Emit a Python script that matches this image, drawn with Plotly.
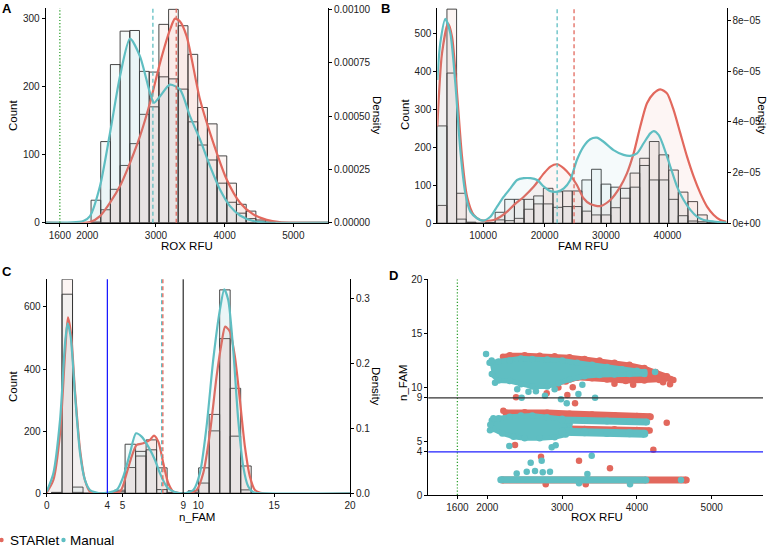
import plotly.graph_objects as go

W, H = 770, 548
FONT = "Liberation Sans, Arial, Helvetica, sans-serif"
RED = "#E2685D"
CYAN = "#5FBEC2"
RED_BAR = "rgba(222,122,108,0.08)"
CYAN_BAR = "rgba(122,188,195,0.08)"
RED_AREA = "rgba(222,122,108,0.075)"
CYAN_AREA = "rgba(122,188,195,0.075)"
OUTLINE = "#333333"
GREEN = "#2EA02E"

# ---------------- Panel A : ROX RFU ----------------
a_bins = [2125, 2266, 2407, 2548, 2689, 2831, 2972, 3113, 3254, 3395, 3537, 3678,
          3819, 3960, 4101, 4243, 4384, 4525, 4666]
a_binwidth = 141.2
a_count_starlet = [1, 19, 49, 84, 116, 159, 221, 291, 313, 289, 247, 169, 145, 98, 58, 27, 17, 4, 1]
a_count_manual = [33, 119, 232, 281, 282, 222, 170, 214, 211, 196, 148, 114, 92, 58, 30, 14, 6, 2, 0]
a_dx_manual = [1394, 1942, 2039, 2185, 2331, 2476, 2622, 2767, 2913, 2971, 3059, 3204, 3350,
               3495, 3641, 3787, 3932, 4078, 4224, 4417, 4600, 5505]
a_dens_manual = [0, 0.000008, 0.000031, 0.000172, 0.000422, 0.000688, 0.000864, 0.000781,
                 0.000609, 0.000563, 0.000594, 0.000648, 0.000625, 0.000500, 0.000391,
                 0.000266, 0.000156, 0.000078, 0.000034, 0.000008, 0.000001, 0]
a_dx_starlet = [1394, 2039, 2185, 2331, 2476, 2622, 2767, 2913, 3059, 3204, 3277, 3350, 3447,
                3641, 3835, 4030, 4224, 4417, 4612, 4800, 5505]
a_dens_starlet = [0, 0.000003, 0.000031, 0.000094, 0.000172, 0.000281, 0.000406, 0.000563,
                  0.000750, 0.000906, 0.000958, 0.000945, 0.000875, 0.000578, 0.000375,
                  0.000203, 0.000094, 0.000039, 0.000013, 0.000003, 0]
a_mean_manual, a_mean_starlet = 2955, 3295
a_xticks = [1600, 2000, 3000, 4000, 5000]
a_count_ticks = [0, 100, 200, 300]
a_dens_ticks = [0, 0.00025, 0.0005, 0.00075, 0.001]
a_dens_labels = ["0.00000", "0.00025", "0.00050", "0.00075", "0.00100"]

# ---------------- Panel B : FAM RFU ----------------
b_bins = [3341, 4909, 6477, 8045, 9613, 11181, 12749, 14317, 15885, 17453, 19021, 20589,
          22157, 23725, 25293, 26861, 28429, 29997, 31565, 33133, 34701, 36269, 37837,
          39405, 40973, 42541, 44109, 45677, 47245, 48813]
b_binwidth = 1568
b_count_starlet = [47, 563, 79, 3, 0, 1, 9, 7, 13, 37, 51, 92, 83, 85, 85, 32, 22, 22, 41, 66,
                   132, 171, 215, 180, 140, 82, 57, 22, 2, 0]
b_count_manual = [256, 395, 11, 2, 0, 2, 29, 63, 63, 63, 72, 51, 42, 44, 44, 114, 142, 103, 95,
                  92, 95, 152, 114, 114, 63, 20, 6, 4, 0, 0]
b_dx_manual = [2557, 3040, 3860, 4670, 5490, 6300, 7120, 7930, 9020, 10000, 11190, 12280,
               13370, 14450, 15540, 16630, 17710, 18800, 19890, 20960, 22050, 23140, 24170,
               25260, 26340, 27430, 28510, 29600, 31230, 32860, 33940, 35030, 36120, 37200,
               37750, 38560, 39370, 40460, 41550, 42630, 43720, 44800, 45890, 47520, 49597]
b_dens_manual = [5.66e-5, 7.11e-5, 8.07e-5, 7.50e-5, 5.53e-5, 2.89e-5, 1.18e-5, 0.46e-5, 0.20e-5,
                 0.105e-5, 0.26e-5, 0.66e-5, 1.05e-5, 1.38e-5, 1.71e-5, 1.78e-5, 1.78e-5,
                 1.71e-5, 1.45e-5, 1.27e-5, 1.25e-5, 1.38e-5, 1.70e-5, 2.50e-5, 3.03e-5,
                 3.32e-5, 3.38e-5, 3.22e-5, 2.89e-5, 2.70e-5, 2.66e-5, 2.76e-5, 3.16e-5,
                 3.55e-5, 3.64e-5, 3.49e-5, 3.03e-5, 2.24e-5, 1.45e-5, 0.92e-5, 0.53e-5,
                 0.26e-5, 0.13e-5, 0.07e-5, 0.03e-5]
b_dx_starlet = [2557, 3322, 4300, 4950, 5770, 6580, 7400, 8480, 9560, 10650, 11740, 12820,
                13910, 15000, 16630, 18260, 19890, 20960, 22050, 23140, 24170, 25260, 26340,
                27430, 29060, 30690, 32320, 33400, 34490, 35570, 36660, 37750, 38830, 39920,
                41000, 42090, 43180, 44260, 45350, 46430, 47520, 48600, 49597]
b_dens_starlet = [3.82e-5, 6.71e-5, 7.89e-5, 7.37e-5, 5.13e-5, 2.63e-5, 1.05e-5, 0.33e-5,
                  0.13e-5, 0.10e-5, 0.13e-5, 0.26e-5, 0.46e-5, 0.72e-5, 1.05e-5, 1.45e-5,
                  1.97e-5, 2.24e-5, 2.33e-5, 2.17e-5, 1.90e-5, 1.51e-5, 0.99e-5, 0.76e-5,
                  0.68e-5, 0.92e-5, 1.45e-5, 1.97e-5, 2.76e-5, 3.82e-5, 4.74e-5, 5.13e-5,
                  5.29e-5, 5.13e-5, 4.47e-5, 3.55e-5, 2.63e-5, 1.84e-5, 1.18e-5, 0.66e-5,
                  0.33e-5, 0.13e-5, 0.06e-5]
b_mean_manual, b_mean_starlet = 22050, 24800
b_xticks = [10000, 20000, 30000, 40000]
b_xlabels = ["10000", "20000", "30000", "40000"]
b_count_ticks = [0, 100, 200, 300, 400, 500]
b_dens_ticks = [0, 2e-5, 4e-5, 6e-5, 8e-5]
b_dens_labels = ["0e+00", "2e\u221205", "4e\u221205", "6e\u221205", "8e\u221205"]

# ---------------- Panel C : n_FAM ----------------
c_bins = [0.664, 1.357, 2.050, 2.743, 3.436, 4.129, 4.822, 5.515, 6.208, 6.901, 7.594,
          8.287, 8.980, 9.673, 10.366, 11.059, 11.752, 12.445, 13.138, 13.831]
c_binwidth = 0.693
c_count_starlet = [2, 689, 3, 0, 0, 0, 5, 83, 120, 172, 82, 3, 1, 3, 33, 201, 498, 338, 88, 1]
c_count_manual = [3, 641, 20, 0, 0, 0, 10, 158, 135, 140, 12, 1, 1, 8, 82, 254, 655, 184, 11, 0]
c_dx_manual = [0.0, 0.44, 0.88, 1.21, 1.38, 1.58, 1.86, 2.20, 2.52, 2.85, 3.51, 4.61, 5.05,
               5.49, 5.89, 6.26, 6.70, 7.14, 7.47, 7.91, 8.35, 9.01, 9.67, 10.10, 10.54,
               10.98, 11.42, 11.71, 11.97, 12.30, 12.63, 12.96, 13.29, 13.62, 14.50, 20.0]
c_dens_manual = [0.0026, 0.0308, 0.1128, 0.2308, 0.2615, 0.2410, 0.1538, 0.0615, 0.0205,
                 0.0051, 0.0, 0.0051, 0.0256, 0.0615, 0.0923, 0.0872, 0.0718, 0.0513,
                 0.0308, 0.0103, 0.0026, 0.0, 0.0051, 0.0308, 0.1026, 0.2051, 0.2821,
                 0.3138, 0.2974, 0.2205, 0.1128, 0.0410, 0.0103, 0.0015, 0.0, 0.0]
c_dx_starlet = [0.0, 0.44, 0.88, 1.21, 1.40, 1.60, 1.86, 2.20, 2.52, 2.85, 3.51, 4.83, 5.27,
                5.60, 5.93, 6.37, 6.81, 7.07, 7.36, 7.69, 8.02, 8.35, 9.23, 9.89, 10.32,
                10.76, 11.20, 11.53, 11.77, 12.08, 12.41, 12.74, 13.07, 13.40, 13.73, 14.28, 20.0]
c_dens_starlet = [0.0010, 0.0205, 0.0923, 0.2154, 0.2708, 0.2462, 0.1590, 0.0667, 0.0205,
                  0.0026, 0.0, 0.0026, 0.0308, 0.0564, 0.0744, 0.0769, 0.0821, 0.0887,
                  0.0795, 0.0462, 0.0154, 0.0026, 0.0, 0.0051, 0.0308, 0.0923, 0.1795,
                  0.2308, 0.2564, 0.2487, 0.2103, 0.1436, 0.0718, 0.0256, 0.0051, 0.0, 0.0]
c_mean_manual, c_mean_starlet = 7.58, 7.66
c_cut_low, c_cut_high = 4, 9
c_xticks = [0, 4, 5, 9, 10, 15, 20]
c_count_ticks = [0, 200, 400, 600]
c_dens_ticks = [0, 0.1, 0.2, 0.3]
c_dens_labels = ["0.0", "0.1", "0.2", "0.3"]

# ---------------- Panel D : ROX RFU vs n_FAM ----------------
d_starlet_top_x = [2210, 2300, 2500, 2700, 2900, 3100, 3300, 3500, 3700, 3900, 4100, 4250,
                   4400, 4450, 4300, 4100, 3850, 3600, 3400, 3200, 3050, 2850, 2600, 2400, 2250]
d_starlet_top_y = [12.8, 12.95, 12.95, 12.9, 12.85, 12.75, 12.6, 12.45, 12.25, 12.05, 11.75,
                   11.4, 11.0, 10.75, 10.65, 10.6, 10.55, 10.7, 10.8, 10.85, 10.5, 10.3, 10.3,
                   10.6, 11.4]
d_manual_top_x = [2030, 2150, 2300, 2450, 2600, 2800, 3000, 3200, 3400, 3600, 3800, 4000, 4100,
                  4100, 3900, 3700, 3500, 3300, 3100, 2950, 2800, 2600, 2450, 2300, 2150, 2060]
d_manual_top_y = [12.25, 12.35, 12.45, 12.65, 12.6, 12.55, 12.45, 12.25, 12.05, 11.85, 11.65,
                  11.5, 11.4, 11.2, 11.2, 11.15, 11.1, 11.0, 10.7, 10.35, 10.05, 10.05, 10.25,
                  10.55, 10.6, 11.2]
d_starlet_mid1_x = [2250, 2500, 2800, 3100, 3400, 3700, 4000, 4180]
d_starlet_mid1_y = [7.6, 7.65, 7.6, 7.5, 7.42, 7.35, 7.3, 7.25]
d_starlet_mid2_x = [2950, 3300, 3700, 4000, 4170]
d_starlet_mid2_y = [6.15, 6.12, 6.08, 6.02, 5.98]
d_manual_mid_x = [2060, 2150, 2300, 2450, 2600, 2800, 3000, 3100, 3100, 3050, 2900, 2700,
                  2500, 2350, 2200, 2080, 2040]
d_manual_mid_y = [6.9, 7.1, 7.25, 7.35, 7.35, 7.2, 7.05, 6.6, 6.1, 5.6, 5.35, 5.25, 5.25,
                  5.4, 5.7, 6.1, 6.5]
d_manual_mid1_x = [3000, 3300, 3600, 3900, 4130]
d_manual_mid1_y = [6.95, 6.9, 6.85, 6.8, 6.75]
d_manual_mid2_x = [3000, 3300, 3600, 3900, 4100]
d_manual_mid2_y = [5.85, 5.8, 5.75, 5.72, 5.68]
d_starlet_low_x = [2200, 4660]
d_starlet_low_y = [1.4, 1.4]
d_manual_low_x = [2180, 4120]
d_manual_low_y = [1.42, 1.4]
d_starlet_pts_x = [2384, 2794, 3070, 3142, 3173, 2214, 2370, 4220, 4399, 2718, 3226, 3640,
                   2781, 3316, 4488, 4443, 4350, 3950, 3700, 2950]
d_starlet_pts_y = [9.04, 9.41, 9.26, 9.97, 8.49, 7.8, 4.63, 4.2, 6.7, 3.55, 3.18, 2.47,
                   0.99, 0.99, 10.65, 10.25, 10.45, 10.2, 10.3, 9.95]
d_manual_pts_x = [1983, 2058, 2103, 2459, 2771, 2985, 3062, 3218, 3271, 3441, 4243, 2294,
                  2861, 2914, 2393, 2527, 2638, 2741, 2838, 2580, 2727, 3396, 3338, 3226,
                  3908, 4590, 2036, 2081, 2400, 2650, 2900, 2550]
d_manual_pts_y = [13.05, 12.45, 10.4, 9.0, 9.2, 8.86, 8.49, 9.35, 10.2, 9.0, 11.4, 4.54,
                  4.41, 4.6, 2.0, 2.16, 2.22, 2.1, 2.16, 2.99, 3.18, 3.64, 1.94, 1.08,
                  0.99, 1.4, 6.0, 7.1, 9.8, 9.6, 9.8, 9.55]
d_xticks = [1600, 2000, 3000, 4000, 5000]
d_yticks = [0, 4, 5, 9, 10, 15, 20]
rox_cutoff = 1600

fig = go.Figure()


def bars(x, y, w, color, xa, ya):
    fig.add_trace(go.Bar(x=x, y=y, width=w, xaxis=xa, yaxis=ya, showlegend=False,
                         hoverinfo="skip",
                         marker=dict(color=color, line=dict(color=OUTLINE, width=0.9))))


def dens(x, y, line, fill, xa, ya):
    fig.add_trace(go.Scatter(x=x, y=y, xaxis=xa, yaxis=ya, mode="lines", showlegend=False,
                             hoverinfo="skip",
                             line=dict(color=line, width=2.2, shape="spline", smoothing=0.7),
                             fill="tozeroy", fillcolor=fill))


# Panel A
bars(a_bins, a_count_starlet, a_binwidth, RED_BAR, "x", "y")
bars(a_bins, a_count_manual, a_binwidth, CYAN_BAR, "x", "y")
dens(a_dx_starlet, a_dens_starlet, RED, RED_AREA, "x", "y2")
dens(a_dx_manual, a_dens_manual, CYAN, CYAN_AREA, "x", "y2")
# Panel B
bars(b_bins, b_count_starlet, b_binwidth, RED_BAR, "x2", "y3")
bars(b_bins, b_count_manual, b_binwidth, CYAN_BAR, "x2", "y3")
dens(b_dx_starlet, b_dens_starlet, RED, RED_AREA, "x2", "y4")
dens(b_dx_manual, b_dens_manual, CYAN, CYAN_AREA, "x2", "y4")
# Panel C
bars(c_bins, c_count_starlet, c_binwidth, RED_BAR, "x3", "y5")
bars(c_bins, c_count_manual, c_binwidth, CYAN_BAR, "x3", "y5")
dens(c_dx_starlet, c_dens_starlet, RED, RED_AREA, "x3", "y6")
dens(c_dx_manual, c_dens_manual, CYAN, CYAN_AREA, "x3", "y6")


# Panel D
def blob(x, y, color):
    fig.add_trace(go.Scatter(x=x, y=y, xaxis="x4", yaxis="y7", mode="lines+markers",
                             fill="toself", fillcolor=color, showlegend=False, hoverinfo="skip",
                             line=dict(color=color, width=5), marker=dict(color=color, size=6.5)))


def band(x, y, color, w=6.5):
    fig.add_trace(go.Scatter(x=x, y=y, xaxis="x4", yaxis="y7", mode="lines+markers",
                             showlegend=False, hoverinfo="skip", line=dict(color=color, width=w),
                             marker=dict(color=color, size=w)))


def pts(x, y, color):
    fig.add_trace(go.Scatter(x=x, y=y, xaxis="x4", yaxis="y7", mode="markers",
                             showlegend=False, marker=dict(color=color, size=6.5)))


blob(d_starlet_top_x, d_starlet_top_y, RED)
band(d_starlet_mid1_x, d_starlet_mid1_y, RED, 7)
band(d_starlet_mid2_x, d_starlet_mid2_y, RED, 6.5)
band(d_starlet_low_x, d_starlet_low_y, RED, 7)
pts(d_starlet_pts_x, d_starlet_pts_y, RED)
blob(d_manual_top_x, d_manual_top_y, CYAN)
blob(d_manual_mid_x, d_manual_mid_y, CYAN)
band(d_manual_mid1_x, d_manual_mid1_y, CYAN, 7)
band(d_manual_mid2_x, d_manual_mid2_y, CYAN, 8)
band(d_manual_low_x, d_manual_low_y, CYAN, 7)
pts(d_manual_pts_x, d_manual_pts_y, CYAN)

# ---------------- layout ----------------
tickfont = dict(family=FONT, size=10, color="#222222")


def ax(**kw):
    base = dict(showline=True, linecolor="black", linewidth=1, ticks="outside", ticklen=3,
                tickwidth=1, tickcolor="black", showgrid=False, zeroline=False,
                tickfont=tickfont, fixedrange=True, automargin=False)
    base.update(kw)
    return base


def px(x):
    return x / W


def py(y):
    return 1 - y / H


layout = dict(
    width=W, height=H, autosize=False, margin=dict(l=0, r=0, t=0, b=0, autoexpand=False),
    paper_bgcolor="white", plot_bgcolor="white", barmode="overlay", bargap=0,
    font=dict(family=FONT, color="black"), showlegend=False,
    xaxis=ax(domain=[px(45.7), px(328)], anchor="y", range=[1394, 5505], tickvals=a_xticks),
    yaxis=ax(domain=[py(222.7), py(8)], anchor="x", range=[0, 315], tickvals=a_count_ticks),
    yaxis2=ax(overlaying="y", side="right", anchor="x", range=[0, 0.001008],
              tickvals=a_dens_ticks, ticktext=a_dens_labels),
    xaxis2=ax(domain=[px(437.3), px(726.5)], anchor="y3", range=[2557, 49597],
              tickvals=b_xticks, ticktext=b_xlabels),
    yaxis3=ax(domain=[py(223.3), py(8)], anchor="x2", range=[0, 566], tickvals=b_count_ticks),
    yaxis4=ax(overlaying="y3", side="right", anchor="x2", range=[0, 8.5e-5],
              tickvals=b_dens_ticks, ticktext=b_dens_labels),
    xaxis3=ax(domain=[px(46.7), px(350)], anchor="y5", range=[0, 20], tickvals=c_xticks),
    yaxis5=ax(domain=[py(493.3), py(279.3)], anchor="x3", range=[0, 689], tickvals=c_count_ticks),
    yaxis6=ax(overlaying="y5", side="right", anchor="x3", range=[0, 0.3292],
              tickvals=c_dens_ticks, ticktext=c_dens_labels),
    xaxis4=ax(domain=[px(428.3), px(763)], anchor="y7", range=[1211, 5686], tickvals=d_xticks),
    yaxis7=ax(domain=[py(495), py(279)], anchor="x4", range=[0, 20], tickvals=d_yticks),
)
fig.update_layout(**layout)

shapes = []


def vline(x, xa, ya, color, dash, width=1.2):
    shapes.append(dict(type="line", xref=xa, yref=ya + " domain", x0=x, x1=x, y0=0, y1=1,
                       line=dict(color=color, width=width, dash=dash), layer="above"))


def hline(y, xa, ya, color, width=1.2):
    shapes.append(dict(type="line", xref=xa + " domain", yref=ya, x0=0, x1=1, y0=y, y1=y,
                       line=dict(color=color, width=width), layer="above"))


vline(rox_cutoff, "x", "y", GREEN, "1.2px,2px", 1.3)
vline(a_mean_manual, "x", "y", CYAN, "4px,3px", 1.3)
vline(a_mean_starlet, "x", "y", RED, "4px,3px", 1.3)
vline(b_mean_manual, "x2", "y3", CYAN, "4px,3px", 1.3)
vline(b_mean_starlet, "x2", "y3", RED, "4px,3px", 1.3)
vline(c_cut_low, "x3", "y5", "#1010FF", "solid", 1.2)
vline(c_cut_high, "x3", "y5", "black", "solid", 1.0)
vline(c_mean_manual, "x3", "y5", CYAN, "4px,3px", 1.3)
vline(c_mean_starlet, "x3", "y5", RED, "4px,3px", 1.3)
vline(rox_cutoff, "x4", "y7", GREEN, "1.2px,2px", 1.3)
hline(c_cut_high, "x4", "y7", "#333333", 1.2)
hline(c_cut_low, "x4", "y7", "#2020FF", 1.2)

# legend dots
for cx, col in [(1.5, RED), (63.5, CYAN)]:
    shapes.append(dict(type="circle", xref="paper", yref="paper", x0=px(cx - 2.2), x1=px(cx + 2.2),
                       y0=py(540 + 2.2), y1=py(540 - 2.2), fillcolor=col, line=dict(width=0)))
fig.update_layout(shapes=shapes)

ann = []


def text(x, y, s, size=11.5, angle=0, bold=False, xanchor="center"):
    ann.append(dict(x=px(x), y=py(y), xref="paper", yref="paper", text=("<b>%s</b>" % s) if bold else s,
                    showarrow=False, textangle=angle, xanchor=xanchor, yanchor="middle",
                    font=dict(family=FONT, size=size, color="black")))


text(7, 9, "A", 13, bold=True)
text(386, 9, "B", 13, bold=True)
text(7, 271, "C", 13, bold=True)
text(394, 275, "D", 13, bold=True)
text(13, 115, "Count", angle=-90)
text(377, 115, "Density", angle=90)
text(187, 246, "ROX RFU")
text(405, 115, "Count", angle=-90)
text(762, 115, "Density", angle=90)
text(583, 246, "FAM RFU")
text(13, 386, "Count", angle=-90)
text(376, 386, "Density", angle=90)
text(197, 517, "n_FAM")
text(403, 383, "n_FAM", angle=-90)
text(597, 517, "ROX RFU")
text(8, 540, "STARlet", 13.5, xanchor="left")
text(68, 540, "Manual", 13.5, xanchor="left")
fig.update_layout(annotations=ann)

fig.write_html("out.html", config={"displayModeBar": False, "staticPlot": True},
               post_script="document.body.style.margin='0';document.body.style.overflow='hidden';")
